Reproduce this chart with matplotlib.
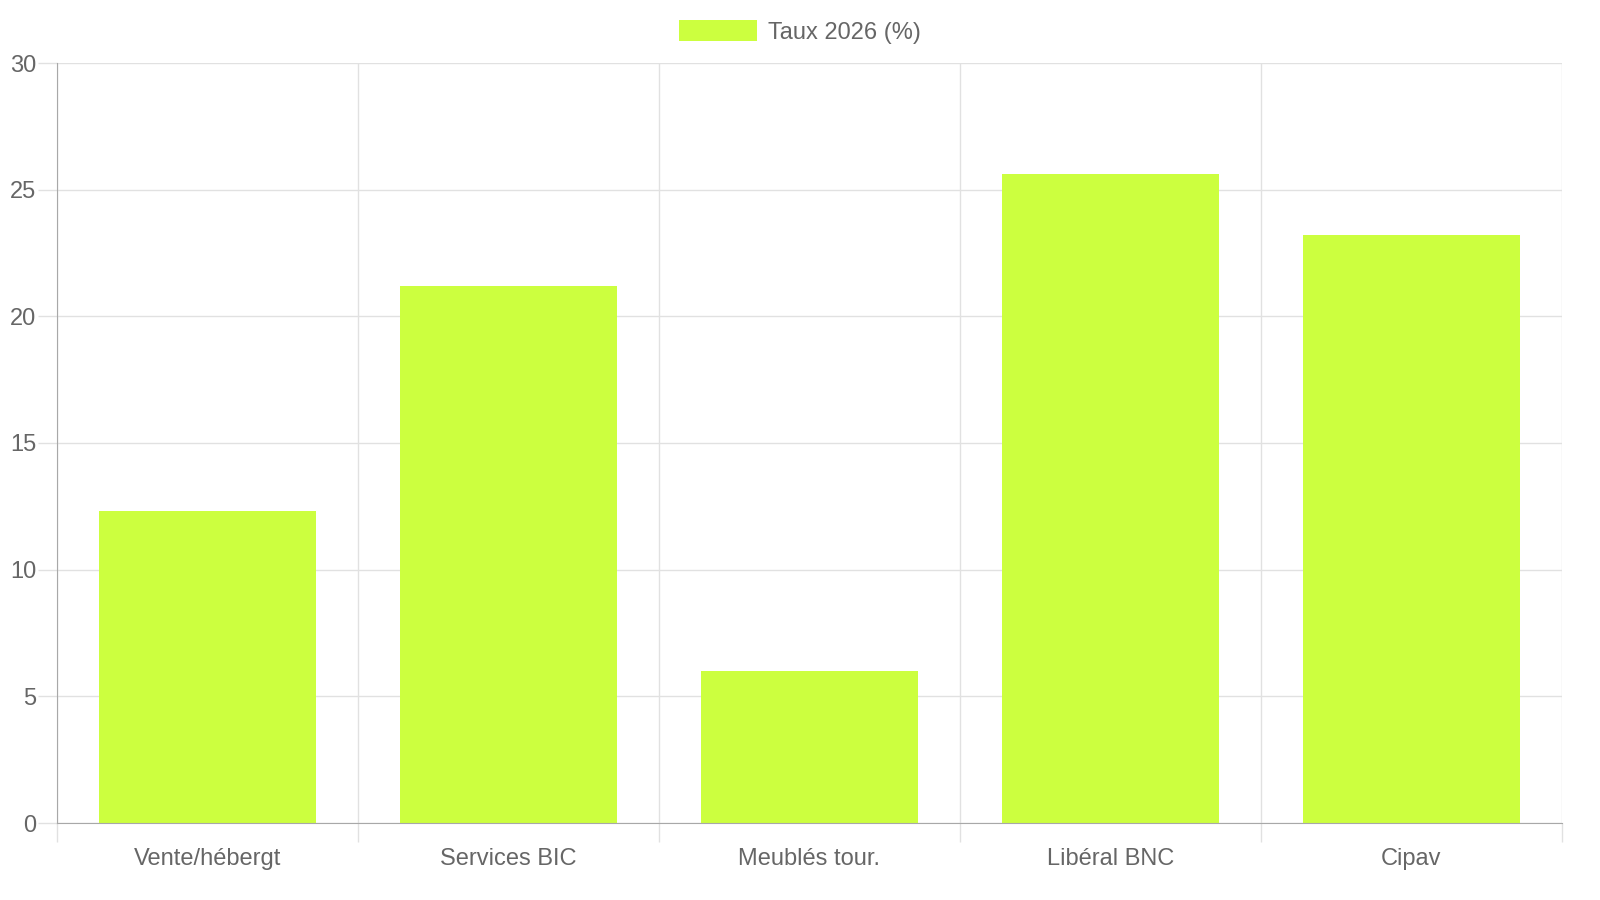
import matplotlib
matplotlib.use("Agg")
import matplotlib.pyplot as plt
import numpy as np

plt.rcParams['font.family'] = ['Liberation Sans', 'DejaVu Sans']

# data
categories = ["Vente/hébergt", "Services BIC", "Meublés tour.", "Libéral BNC", "Cipav"]
taux_2026 = [12.3, 21.2, 6.0, 25.6, 23.2]
series_label = "Taux 2026 (%)"

bar_color = "#ccff3f"
grid_color = "#e1e1e1"
axis_color = "#a8a8a8"
text_color = "#666666"
fs = 17

fig = plt.figure(figsize=(16, 9), dpi=100)
ax = fig.add_axes([57/1600, 1 - 823/900, (1562 - 57)/1600, (823 - 63)/900])

x = np.arange(len(categories))
ax.bar(x, taux_2026, width=0.72, color=bar_color, label=series_label, zorder=2)

ax.set_xlim(-0.5, len(categories) - 0.5)
ax.set_ylim(0, 30)
ax.set_yticks(range(0, 31, 5))

# category labels without tick marks; boundaries as minor ticks with grid
ax.set_xticks(x)
ax.set_xticklabels(categories)
ax.set_xticks(np.arange(-0.5, len(categories)), minor=True)
ax.tick_params(axis='x', which='major', length=0, pad=18, labelsize=fs, labelcolor=text_color)
ax.tick_params(axis='x', which='minor', length=13.7, width=1, color=grid_color)
ax.tick_params(axis='y', length=13.7, width=1, color=grid_color, labelsize=fs,
               labelcolor=text_color, pad=1)

ax.grid(True, axis='y', color=grid_color, linewidth=1, zorder=0)
ax.grid(True, axis='x', which='minor', color=grid_color, linewidth=1, zorder=0)
ax.grid(False, axis='x', which='major')
ax.set_axisbelow(True)

for side in ['top', 'right']:
    ax.spines[side].set_visible(False)
ax.spines['left'].set_color(axis_color)
ax.spines['bottom'].set_color(axis_color)

leg = fig.legend(loc='upper center', bbox_to_anchor=(0.5, 1 - 6/900), ncol=1, frameon=False,
                 fontsize=fs, handlelength=3.3, handleheight=1.0, handletextpad=0.5,
                 borderaxespad=0.2)
for t in leg.get_texts():
    t.set_color(text_color)

fig.savefig("out.png", dpi=100)
